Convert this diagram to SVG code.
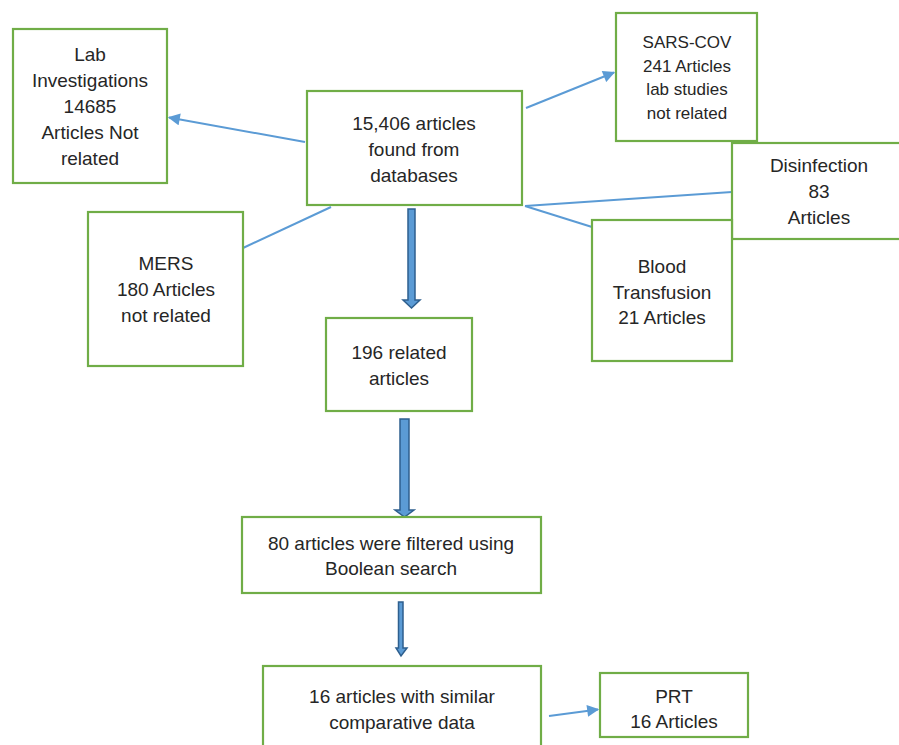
<svg xmlns="http://www.w3.org/2000/svg" width="899" height="745" viewBox="0 0 899 745">
<style>
.box{fill:#fff;stroke:#70AD47;stroke-width:2.2}
.t{font-family:"Liberation Sans",Arial,sans-serif;font-size:19px;fill:#262626;text-anchor:middle}
.s{font-size:17px}
.ln{stroke:#5B9BD5;stroke-width:2;fill:none}
.blk{fill:#5B9BD5;stroke:#2E5F8E;stroke-width:1.5}
</style>
<defs>
<marker id="ah" viewBox="0 0 10 10" refX="9" refY="5" markerWidth="6.5" markerHeight="6" orient="auto" markerUnits="strokeWidth">
<path d="M0,0 L10,5 L0,10 Z" fill="#5B9BD5"/>
</marker>
</defs>
<rect width="899" height="745" fill="#fff"/>
<g id="connectors">
<line class="ln" x1="305" y1="142" x2="169" y2="117.5" marker-end="url(#ah)"/>
<line class="ln" x1="526" y1="108" x2="614" y2="72.5" marker-end="url(#ah)"/>
<line class="ln" x1="525" y1="206" x2="732" y2="192"/>
<line class="ln" x1="525" y1="206" x2="592" y2="227"/>
<line class="ln" x1="243" y1="248" x2="331" y2="207"/>
<line class="ln" x1="549" y1="716" x2="598" y2="709.5" marker-end="url(#ah)"/>
<path class="blk" d="M408,209 H415 V300 H420 L411.5,308 L403,300 H408 Z"/>
<path class="blk" d="M400,419 H409 V510 H414 L404.5,517 L395,510 H400 Z"/>
<path class="blk" d="M398.5,602 H403 V648 H407 L401,656 L396,648 H398.5 Z"/>
</g>
<g id="lab">
<rect class="box" x="13" y="29" width="154" height="154"/>
<text class="t" x="90" y="61">Lab</text>
<text class="t" x="90" y="87">Investigations</text>
<text class="t" x="90" y="113">14685</text>
<text class="t" x="90" y="139">Articles Not</text>
<text class="t" x="90" y="165">related</text>
</g>
<g id="main">
<rect class="box" x="307" y="91" width="215" height="114"/>
<text class="t" x="414" y="130">15,406 articles</text>
<text class="t" x="414" y="156">found from</text>
<text class="t" x="414" y="182">databases</text>
</g>
<g id="sars">
<rect class="box" x="616" y="13" width="141" height="128"/>
<text class="t s" x="687" y="48">SARS-COV</text>
<text class="t s" x="687" y="72">241 Articles</text>
<text class="t s" x="687" y="95">lab studies</text>
<text class="t s" x="687" y="119">not related</text>
</g>
<g id="disinfection">
<rect class="box" x="732" y="143" width="180" height="96"/>
<text class="t" x="819" y="172">Disinfection</text>
<text class="t" x="819" y="198">83</text>
<text class="t" x="819" y="224">Articles</text>
</g>
<g id="blood">
<rect class="box" x="592" y="220" width="140" height="141"/>
<text class="t" x="662" y="273">Blood</text>
<text class="t" x="662" y="299">Transfusion</text>
<text class="t" x="662" y="324">21 Articles</text>
</g>
<g id="mers">
<rect class="box" x="88" y="212" width="155" height="154"/>
<text class="t" x="166" y="270">MERS</text>
<text class="t" x="166" y="296">180 Articles</text>
<text class="t" x="166" y="322">not related</text>
</g>
<g id="related">
<rect class="box" x="326" y="318" width="146" height="93"/>
<text class="t" x="399" y="359">196 related</text>
<text class="t" x="399" y="385">articles</text>
</g>
<g id="boolean">
<rect class="box" x="242" y="517" width="299" height="76"/>
<text class="t" x="391" y="550">80 articles were filtered using</text>
<text class="t" x="391" y="575">Boolean search</text>
</g>
<g id="similar">
<rect class="box" x="263" y="666" width="278" height="90"/>
<text class="t" x="402" y="703">16 articles with similar</text>
<text class="t" x="402" y="729">comparative data</text>
</g>
<g id="prt">
<rect class="box" x="600" y="673" width="148" height="64"/>
<text class="t" x="674" y="703">PRT</text>
<text class="t" x="674" y="728">16 Articles</text>
</g>
</svg>
